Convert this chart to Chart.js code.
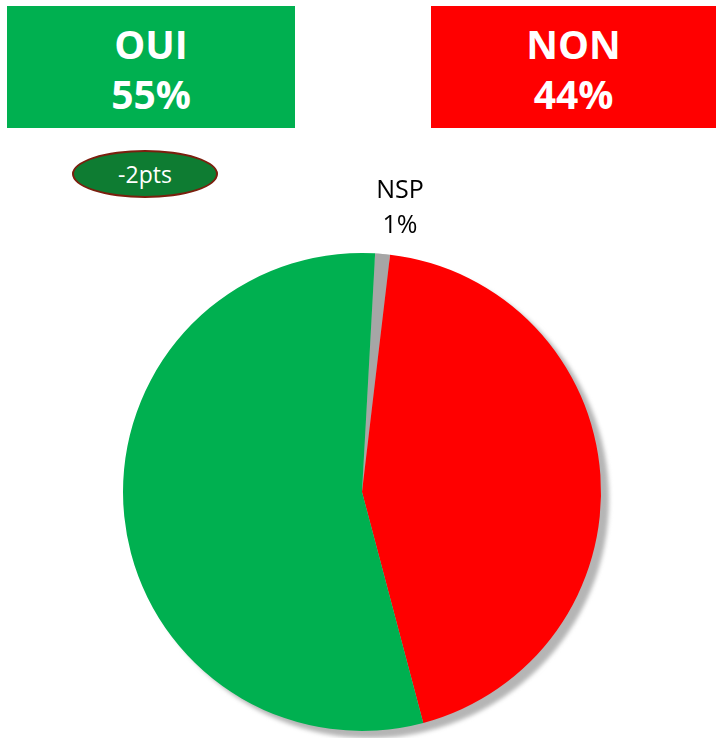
<!DOCTYPE html>
<html><head><meta charset="utf-8">
<script src="https://cdn.jsdelivr.net/npm/chart.js@4/dist/chart.umd.min.js"></script>
<style>
html,body{margin:0;padding:0;background:#fff;}
#wrap{position:relative;width:716px;height:738px;overflow:hidden;}
#c{position:absolute;left:0;top:0;}
.box{position:absolute;top:6px;height:122px;color:#fff;font-family:"Open Sans","Noto Sans",sans-serif;font-weight:bold;font-size:39px;text-align:center;line-height:50px;}
.box div{height:50px;}
#oui{left:7px;width:288px;background:#00B050;}
#non{left:431px;width:285px;background:#FF0000;}
#delta{position:absolute;left:72px;top:150px;width:142px;height:44px;border:2px solid #7B1F0E;border-radius:50%;background:#0E7C32;color:#fff;font-family:"Open Sans","Noto Sans",sans-serif;font-size:23px;line-height:44px;text-align:center;}
#nsp{position:absolute;left:350px;top:171px;width:100px;text-align:center;font-family:"Open Sans","Noto Sans",sans-serif;font-size:25px;line-height:35px;color:#000;}
</style></head>
<body><div id="wrap">
<canvas id="c" width="716" height="738"></canvas>
<div class="box" id="oui"></div>
<div class="box" id="non"></div>
<div id="delta"></div>
<div id="nsp"></div>
</div>
<script>
const categories = ["NSP", "NON", "OUI"];
const values = [1, 44, 55];
const colors = ["#A6A6A6", "#FF0000", "#00B050"];
const evolutionOui = "-2pts";

function setBox(id, i){
  const el = document.getElementById(id);
  el.innerHTML = '<div style="margin-top:13px">' + categories[i] + '</div><div>' + values[i] + '%</div>';
}
setBox("oui", 2);
setBox("non", 1);
document.getElementById("delta").textContent = evolutionOui;
document.getElementById("nsp").innerHTML = categories[0] + "<br>" + values[0] + "%";

const shadowPlugin = {
  id: "pieShadow",
  beforeDatasetsDraw(chart){
    const meta = chart.getDatasetMeta(0);
    if(!meta.data.length) return;
    const a = meta.data[0];
    const ctx = chart.ctx;
    ctx.save();
    ctx.filter = "blur(2px)";
    ctx.fillStyle = "#b5b5b5";
    ctx.beginPath();
    ctx.arc(a.x + 8, a.y + 7, a.outerRadius, 0, Math.PI * 2);
    ctx.fill();
    ctx.restore();
  }
};

new Chart(document.getElementById("c"), {
  type: "pie",
  data: {
    labels: categories,
    datasets: [{
      data: values,
      backgroundColor: colors,
      borderWidth: 0
    }]
  },
  options: {
    responsive: false,
    animation: false,
    rotation: 3.15,
    layout: { padding: { left: 123, right: 115, top: 253, bottom: 7 } },
    plugins: { legend: { display: false }, tooltip: { enabled: false } }
  },
  plugins: [shadowPlugin]
});
</script>
</body></html>
